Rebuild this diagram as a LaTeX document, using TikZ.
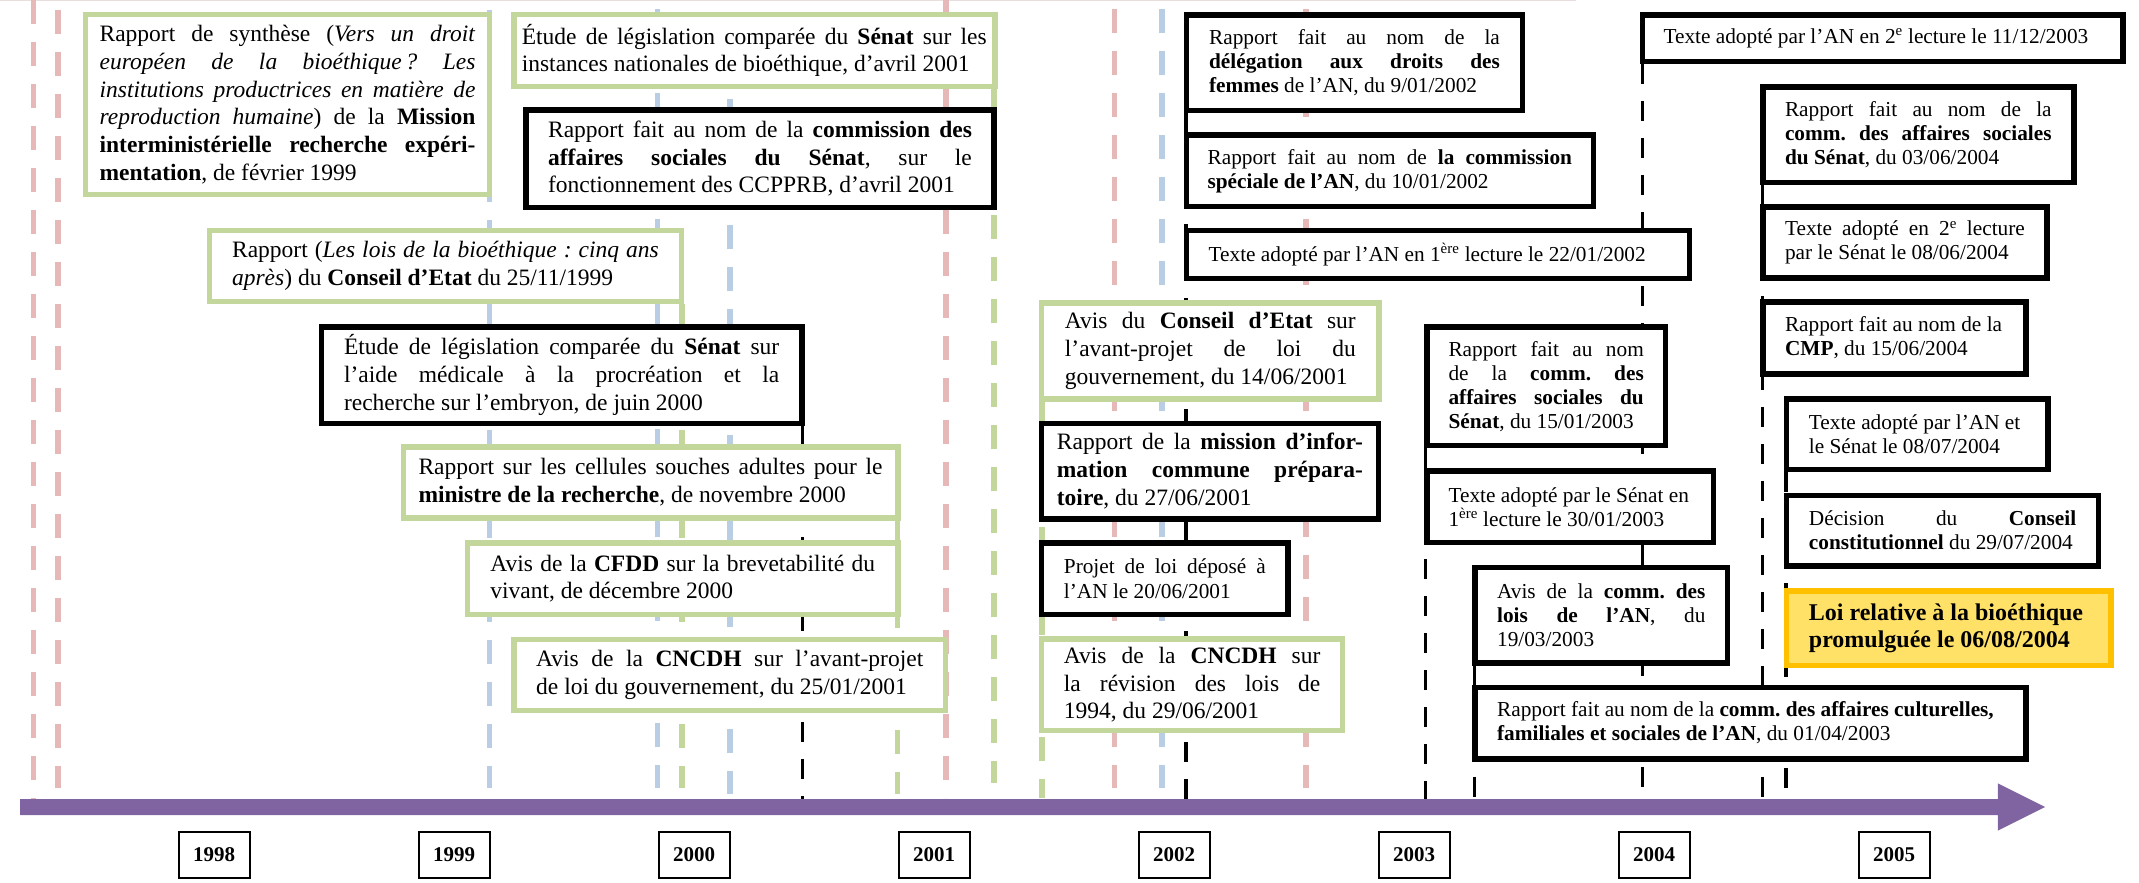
\documentclass[tikz,border=0pt]{standalone}
\usepackage{fontspec}
\setmainfont{Liberation Serif}
\definecolor{myGreen}{HTML}{C3D69B}
\definecolor{myPink}{HTML}{E6B9B8}
\definecolor{myBlue}{HTML}{B9CDE5}
\definecolor{myPurple}{HTML}{8064A2}
\definecolor{myGold}{HTML}{FFC000}
\definecolor{myYellow}{HTML}{FFE168}
\definecolor{myTop}{HTML}{E8DEDE}
\hbadness=10000 \hfuzz=300pt \vbadness=10000 \vfuzz=300pt
\frenchspacing
\newcommand\JL[1]{\hbox to\hsize{#1}}
\newcommand\NL[1]{\hbox to\hsize{#1\hfil}}
\newcommand\mybox[8]{%
  \pgfmathsetmacro\mybw{#5-#3-5.5}%
  \pgfmathsetmacro\mybh{#6-#4-5.5}%
  \pgfmathsetmacro\mytw{#5-#3-2*#7}%
  \pgfmathsetmacro\mycx{(#3+#5)/2}%
  \pgfmathsetmacro\mycy{(#4+#6)/2}%
  \node[#2, minimum width=\mybw pt, minimum height=\mybh pt] (#1) at (\mycx,\mycy)
    {\vbox{\hsize=\mytw pt\relax\lineskiplimit=-1000pt\relax\frenchspacing #8}};%
}
\begin{document}
\begin{tikzpicture}[x=1pt,y=-1pt,
  pastel/.style={line width=5.5pt, dash pattern=on 24pt off 18pt},
  stem/.style={line width=3.5pt, dash pattern=on 20pt off 17pt, draw=black},
  gbox/.style={draw=myGreen, line width=5.5pt, fill=white, inner sep=0pt},
  kbox/.style={draw=black, line width=5.5pt, fill=white, inner sep=0pt},
  ybox/.style={draw=myGold, line width=5.5pt, fill=myYellow, inner sep=0pt, font=\bfseries\fontsize{24}{27.7}\selectfont},
  big/.style={font=\fontsize{23.5}{27.7}\selectfont},
  mid/.style={font=\fontsize{21.3}{25}\selectfont},
  small/.style={font=\fontsize{21.3}{24}\selectfont},
  yearbox/.style={draw=black, line width=2pt, fill=white, inner sep=0pt, minimum width=71pt, minimum height=46.3pt, font=\bfseries\fontsize{21}{24}\selectfont}]
\useasboundingbox (0,0) rectangle (2139,883);

% thin top line
\draw[line width=1pt, myTop] (0,0.5) -- (1576,0.5);

% pastel dashed lines
\draw[pastel, myPink] (33.7,0) -- (33.7,799);
\draw[pastel, myPink] (57.9,10) -- (57.9,788);
\draw[pastel, myBlue] (489.7,10) -- (489.7,788);
\draw[pastel, myBlue] (657.7,9) -- (657.7,788);
\draw[pastel, myGreen] (681.8,304) -- (681.8,788);
\draw[pastel, myBlue] (730,99) -- (730,794);
\draw[pastel, myGreen] (897.7,520) -- (897.7,794);
\draw[pastel, myPink] (945.9,0) -- (945.9,798);
\draw[pastel, myGreen] (994.1,89) -- (994.1,782.7);
\draw[pastel, myGreen] (1042.2,401) -- (1042.2,798);
\draw[pastel, myPink] (1114.4,9) -- (1114.4,788);
\draw[pastel, myBlue] (1162.2,9) -- (1162.2,788);
\draw[pastel, myPink] (1306.1,9) -- (1306.1,788);

% black dashed stems
\draw[stem] (802.3,426) -- (802.3,799);
\draw[stem] (1185.9,113) -- (1185.9,799);
\draw[stem] (1425.7,448) -- (1425.7,799);
\draw[stem] (1474.4,665.7) -- (1474.4,799);
\draw[stem] (1642.5,64.3) -- (1642.5,799);
\draw[stem] (1762.5,185) -- (1762.5,799);
\draw[stem] (1786,472) -- (1786,799);

% time axis arrow
\fill[myPurple] (20,799) -- (1997.8,799) -- (1997.8,783.3) -- (2045.2,807)
  -- (1997.8,830.7) -- (1997.8,815) -- (20,815) -- cycle;

% year labels
\node[yearbox] (y1998) at (214,854.85) {1998};
\node[yearbox] (y1999) at (454,854.85) {1999};
\node[yearbox] (y2000) at (694,854.85) {2000};
\node[yearbox] (y2001) at (934,854.85) {2001};
\node[yearbox] (y2002) at (1174,854.85) {2002};
\node[yearbox] (y2003) at (1414,854.85) {2003};
\node[yearbox] (y2004) at (1654,854.85) {2004};
\node[yearbox] (y2005) at (1894,854.85) {2005};

% ---- left group
\mybox{A}{gbox,big}{82.6}{11.7}{492.4}{197.3}{17}{%
\JL{Rapport de synthèse (\textit{Vers un droit}}%
\JL{\textit{européen de la bioéthique\,? Les}}%
\JL{\textit{institutions productrices en matière de}}%
\JL{\textit{reproduction humaine}) de la \textbf{Mission}}%
\JL{\textbf{interministérielle recherche expéri-}}%
\NL{\textbf{mentation}, de février 1999}}

\mybox{B}{gbox,big}{511}{11.7}{997.6}{89.3}{10.8}{%
\JL{Étude de législation comparée du \textbf{Sénat} sur les}%
\NL{instances nationales de bioéthique, d’avril 2001}}

\mybox{C}{kbox,big}{523.1}{107.3}{996.9}{210}{25}{%
\JL{Rapport fait au nom de la \textbf{commission des}}%
\JL{\textbf{affaires sociales du Sénat}, sur le}%
\NL{fonctionnement des CCPPRB, d’avril 2001}}

\mybox{D}{gbox,big}{206.6}{227.7}{684.2}{304}{25.5}{%
\JL{Rapport (\textit{Les lois de la bioéthique : cinq ans}}%
\NL{\textit{après}) du \textbf{Conseil d’Etat} du 25/11/1999}}

\mybox{E}{kbox,big}{318.5}{324}{804.8}{426}{25.5}{%
\JL{Étude de législation comparée du \textbf{Sénat} sur}%
\JL{l’aide médicale à la procréation et la}%
\NL{recherche sur l’embryon, de juin 2000}}

\mybox{F}{gbox,big}{400.5}{444}{900.5}{520.5}{18}{%
\JL{Rapport sur les cellules souches adultes pour le}%
\NL{\textbf{ministre de la recherche}, de novembre 2000}}

\mybox{G}{gbox,big}{464.9}{540}{900.5}{617.3}{25.5}{%
\JL{Avis de la \textbf{CFDD} sur la brevetabilité du}%
\NL{vivant, de décembre 2000}}

\mybox{H}{gbox,big}{511.2}{636.5}{948.3}{713.3}{25}{%
\JL{Avis de la \textbf{CNCDH} sur l’avant-projet}%
\NL{de loi du gouvernement, du 25/01/2001}}

% ---- middle group
\mybox{L}{gbox,big}{1038.9}{300}{1381.8}{401.7}{26}{%
\JL{Avis du \textbf{Conseil d’Etat} sur}%
\JL{l’avant-projet de loi du}%
\NL{gouvernement, du 14/06/2001}}

\mybox{N}{kbox,big}{1038.9}{420.7}{1381}{521.7}{18}{%
\JL{Rapport de la \textbf{mission d’infor-}}%
\JL{\textbf{mation commune prépara-}}%
\NL{\textbf{toire}, du 27/06/2001}}

\mybox{O}{kbox,mid}{1038.9}{540}{1290.7}{617.3}{25}{%
\JL{Projet de loi déposé à}%
\NL{l’AN le 20/06/2001}}

\mybox{P}{gbox,big}{1038.9}{636}{1345.4}{733.3}{25}{%
\JL{Avis de la \textbf{CNCDH} sur}%
\JL{la révision des lois de}%
\NL{1994, du 29/06/2001}}

% ---- right group
\mybox{I}{kbox,small}{1183.6}{12.3}{1525.4}{113.3}{25.5}{%
\JL{Rapport fait au nom de la}%
\JL{\textbf{délégation aux droits des}}%
\NL{\textbf{femmes} de l’AN, du 9/01/2002}}

\mybox{J}{kbox,small}{1183.6}{132.3}{1596}{209.3}{24}{%
\JL{Rapport fait au nom de \textbf{la commission}}%
\NL{\textbf{spéciale de l’AN}, du 10/01/2002}}

\mybox{K}{kbox,small}{1183.6}{227.7}{1692.3}{281}{25}{%
\NL{Texte adopté par l’AN en 1\textsuperscript{ère} lecture le 22/01/2002}}

\mybox{M}{kbox,small}{1424}{324.3}{1668.3}{448.3}{24.5}{%
\JL{Rapport fait au nom}%
\JL{de la \textbf{comm. des}}%
\JL{\textbf{affaires sociales du}}%
\NL{\textbf{Sénat}, du 15/01/2003}}

\mybox{Q}{kbox,small}{1424}{468.3}{1716}{545.3}{24.5}{%
\NL{Texte adopté par le Sénat en}%
\NL{1\textsuperscript{ère} lecture le 30/01/2003}}

\mybox{R}{kbox,small}{1472.1}{564.5}{1730.4}{665.7}{25}{%
\JL{Avis de la \textbf{comm. des}}%
\JL{\textbf{lois de l’AN}, du}%
\NL{19/03/2003}}

\mybox{S}{kbox,small}{1472.1}{684.5}{2028.5}{761.7}{25}{%
\NL{Rapport fait au nom de la \textbf{comm. des affaires culturelles,}}%
\NL{\textbf{familiales et sociales de l’AN}, du 01/04/2003}}

\mybox{T}{kbox,small}{1639.5}{12.3}{2125.5}{64.3}{24}{%
\NL{Texte adopté par l’AN en 2\textsuperscript{e} lecture le 11/12/2003}}

\mybox{U}{kbox,small}{1760}{84}{2076.6}{185}{25}{%
\JL{Rapport fait au nom de la}%
\JL{\textbf{comm. des affaires sociales}}%
\NL{\textbf{du Sénat}, du 03/06/2004}}

\mybox{V}{kbox,small}{1760}{204.3}{2049.9}{280.7}{25}{%
\JL{Texte adopté en 2\textsuperscript{e} lecture}%
\NL{par le Sénat le 08/06/2004}}

\mybox{W}{kbox,small}{1760}{299}{2028.5}{376.7}{25}{%
\NL{Rapport fait au nom de la}%
\NL{\textbf{CMP}, du 15/06/2004}}

\mybox{X}{kbox,small}{1783.9}{396.3}{2050.6}{472}{25}{%
\NL{Texte adopté par l’AN et}%
\NL{le Sénat le 08/07/2004}}

\mybox{Y}{kbox,small}{1783.9}{492.7}{2101.2}{568.7}{25}{%
\JL{Décision du \textbf{Conseil}}%
\NL{\textbf{constitutionnel} du 29/07/2004}}

\mybox{Z}{ybox}{1783.9}{588.3}{2113.7}{668.3}{25}{%
\NL{Loi relative à la bioéthique}%
\NL{promulguée le 06/08/2004}}

\end{tikzpicture}
\end{document}
